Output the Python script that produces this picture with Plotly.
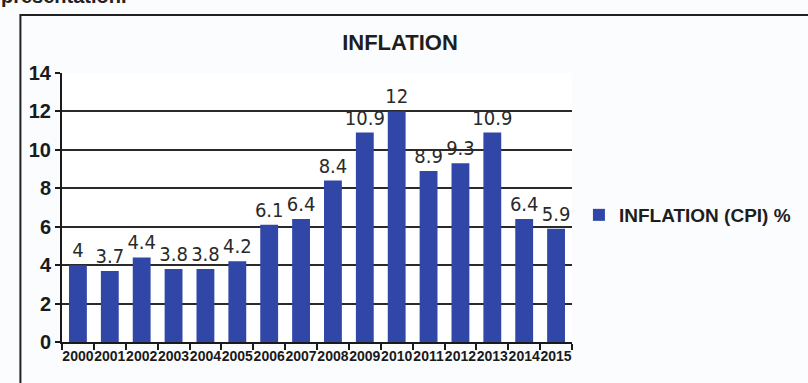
import plotly.graph_objects as go

years = [str(y) for y in range(2000, 2016)]
inflation = [4, 3.7, 4.4, 3.8, 3.8, 4.2, 6.1, 6.4, 8.4, 10.9, 12, 8.9, 9.3, 10.9, 6.4, 5.9]
y_ticks = [0, 2, 4, 6, 8, 10, 12, 14]

condensed = "DejaVu Sans Condensed, Arial Narrow, sans-serif"
sans = "Liberation Sans, Arial, sans-serif"

fig = go.Figure()
fig.add_trace(go.Bar(
    x=years,
    y=inflation,
    name="INFLATION (CPI) %",
    marker=dict(color="#3047a8", line=dict(width=0)),
    text=[f"{v:g}" for v in inflation],
    textposition="outside",
    constraintext="none",
    textfont=dict(family=condensed, size=20, color="#2a2a2a"),
    cliponaxis=False,
))

W, H = 808, 383
L, R, T, B = 62, 231, 73, 41
pw, ph = W - L - R, H - T - B

def px(x):
    return (x - L) / pw

def py(y):
    return (H - B - y) / ph

fig.update_layout(
    width=W, height=H,
    margin=dict(l=L, r=R, t=T, b=B),
    paper_bgcolor="#fbfcfd",
    plot_bgcolor="#ffffff",
    bargap=0.44,
    showlegend=True,
    title=dict(text="<b>INFLATION</b>", xref="container", x=400 / W, xanchor="center",
               y=1 - 42 / H, yanchor="middle",
               font=dict(family=sans, size=22, color="#1e1e1e")),
    legend=dict(x=px(584), y=py(215), xanchor="left", yanchor="middle",
                font=dict(family=sans, size=19, color="#1e1e1e", weight="bold"),
                bgcolor="rgba(0,0,0,0)", itemwidth=30, borderwidth=0),
    xaxis=dict(
        type="category",
        tickfont=dict(family=sans, size=14, color="#1a1a1a", weight="bold"),
        tickangle=0,
        ticks="outside", ticklen=6, tickwidth=2, tickcolor="#1a1a1a",
        tickson="boundaries",
        showline=True, linecolor="#1a1a1a", linewidth=2,
        showgrid=False,
    ),
    yaxis=dict(
        range=[0, 14],
        tickvals=y_ticks,
        tickfont=dict(family=sans, size=20, color="#1a1a1a", weight="bold"),
        ticks="outside", ticklen=5, tickwidth=2, tickcolor="#1a1a1a",
        showline=True, linecolor="#1a1a1a", linewidth=2,
        showgrid=True, gridcolor="#2a2a2a", gridwidth=2,
        zeroline=False,
    ),
    shapes=[
        dict(type="rect", xref="paper", yref="paper",
             x0=px(20), x1=px(830), y0=py(395), y1=py(15),
             line=dict(color="#222222", width=2), fillcolor="rgba(0,0,0,0)",
             layer="below"),
    ],
    annotations=[
        dict(text="<b>presentation.</b>", xref="paper", yref="paper",
             x=px(-2), y=py(-4), xanchor="left", yanchor="middle",
             showarrow=False,
             font=dict(family=sans, size=20, color="#222222")),
    ],
)

fig.write_html("out.html")
